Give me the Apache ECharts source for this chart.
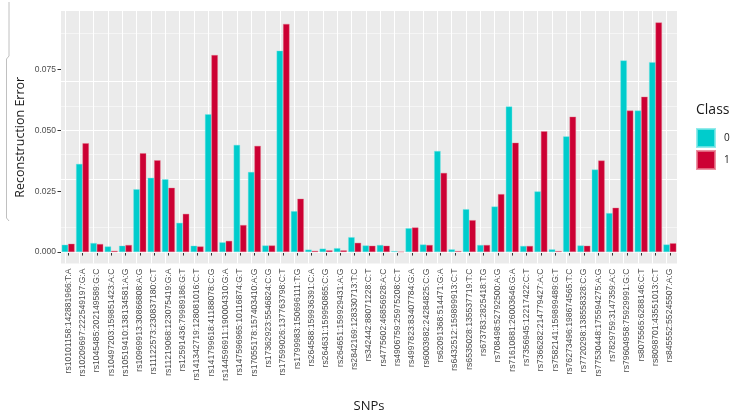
<!DOCTYPE html>
<html>
<head>
<meta charset="utf-8">
<script src="https://cdn.jsdelivr.net/npm/echarts@6/dist/echarts.min.js"></script>
<style>
html,body{margin:0;padding:0;background:#fff;}
#chart{width:740px;height:417px;}
</style>
</head>
<body>
<div id="chart"></div>
<script>
const categories = [
  "rs10101158:142881966:T:A","rs10209697:222549197:G:A","rs1045485:202149589:G:C","rs10497203:159851423:A:C",
  "rs10519410:138134581:A:G","rs10969913:30866808:A:G","rs11122573:230837180:C:T","rs11219068:123075419:G:A",
  "rs12591436:79989186:G:T","rs141342719:128081016:C:T","rs141799618:41188078:C:G","rs144596911:190004310:G:A",
  "rs147596965:10116874:G:T","rs17055178:157403410:A:G","rs17362923:5546824:C:G","rs17599026:137763798:C:T",
  "rs1799983:150696111:T:G","rs264588:159936391:C:A","rs264631:159950865:C:G","rs264651:159929431:A:G",
  "rs2842169:128330713:T:C","rs342442:88071228:C:T","rs4775602:46856928:A:C","rs4906759:25975208:C:T",
  "rs4997823:83407784:G:A","rs6003982:24284825:C:G","rs62091368:514471:G:A","rs6432512:159899913:C:T",
  "rs6535028:135537719:T:C","rs673783:2825418:T:G","rs708498:52792500:A:G","rs71610881:26003646:G:A",
  "rs7356945:12217422:C:T","rs7366282:214779427:A:C","rs7582141:159899489:G:T","rs76273496:198674565:T:C",
  "rs7720298:138558328:C:G","rs77530448:175594275:A:G","rs7829759:3147359:A:C","rs79604958:75929991:G:C",
  "rs8075565:6288146:C:T","rs8098701:43551013:C:T","rs845552:55245507:A:G"
];
const class0 = [
  0.0030,0.0362,0.0037,0.0023,0.0026,0.0258,0.0305,0.0299,0.0120,0.0026,0.0566,0.0040,0.0440,0.0329,0.0027,0.0827,
  0.0168,0.0010,0.0014,0.0016,0.0061,0.0027,0.0029,0.0004,0.0098,0.0031,0.0415,0.0011,0.0176,0.0029,0.0187,0.0598,
  0.0025,0.0249,0.0011,0.0475,0.0027,0.0339,0.0160,0.0787,0.0581,0.0780,0.0031
];
const class1 = [
  0.0034,0.0447,0.0033,0.0005,0.0029,0.0406,0.0377,0.0264,0.0157,0.0023,0.0809,0.0046,0.0111,0.0436,0.0027,0.0937,
  0.0219,0.0005,0.0007,0.0007,0.0038,0.0026,0.0026,0.0001,0.0101,0.0029,0.0325,0.0004,0.0131,0.0029,0.0238,0.0449,
  0.0025,0.0496,0.0004,0.0556,0.0026,0.0376,0.0182,0.0581,0.0638,0.0943,0.0036
];
const seriesNames = ["0","1"];
const majorTicks = [0, 0.025, 0.05, 0.075];
const minorTicks = [0.0125, 0.0375, 0.0625, 0.0875];

const chart = echarts.init(document.getElementById('chart'), null, {renderer:'canvas'});

const gridLines = [];
majorTicks.forEach(v => gridLines.push({yAxis: v, lineStyle:{color:'#fff', width:1.1, type:'solid'}}));
minorTicks.forEach(v => gridLines.push({yAxis: v, lineStyle:{color:'#fff', width:0.5, type:'solid'}}));
categories.forEach(c => gridLines.push({xAxis: c, lineStyle:{color:'#fff', width:1.1, type:'solid'}}));

const option = {
  animation: false,
  backgroundColor: '#fff',
  grid: {left: 61, top: 11, right: 63, bottom: 153.5, show: true, backgroundColor: '#EBEBEB', borderWidth: 0,
    containLabel: false, outerBoundsMode: 'none'},
  legend: {
    orient: 'vertical', left: 696, top: 128, padding: 0,
    itemWidth: 18, itemHeight: 18, itemGap: 2,
    icon: 'rect',
    data: seriesNames,
    textStyle: {fontFamily: 'Open Sans', fontSize: 10, color: '#1a1a1a', padding:[0,0,0,4]},
    selectedMode: false
  },
  graphic: [
    {type: 'text', left: 696, top: 103, style: {text: 'Class', font: '14px "Open Sans"', fill: '#1a1a1a'}},
    {type: 'polyline', shape: {points: [[9,2],[9,56],[6.5,59],[6.5,218],[9,221]]}, style: {stroke: '#c0c0c0', lineWidth: 1, fill: null}, silent: true}
  ],
  xAxis: {
    type: 'category',
    data: categories,
    boundaryGap: true,
    name: 'SNPs',
    nameLocation: 'middle',
    nameGap: 136,
    nameMoveOverlap: false,
    nameTextStyle: {fontFamily: 'Open Sans', fontSize: 13, color: '#1a1a1a'},
    axisLine: {show: false},
    axisTick: {show: true, alignWithLabel: true, length: 3.5, lineStyle: {color: '#333', width: 1}},
    axisLabel: {rotate: 90, interval: 0, fontFamily: 'Liberation Sans', fontSize: 8.6, color: '#4D4D4D', margin: 5},
    splitLine: {show: false}
  },
  yAxis: {
    type: 'value',
    min: -0.0047,
    max: 0.099,
    name: 'Reconstruction Error',
    nameLocation: 'middle',
    nameGap: 34,
    nameMoveOverlap: false,
    nameRotate: 90,
    nameTextStyle: {fontFamily: 'Open Sans', fontSize: 12.5, color: '#1a1a1a'},
    axisLine: {show: false},
    axisTick: {show: true, length: 3.5, customValues: majorTicks, lineStyle: {color: '#333', width: 1}},
    axisLabel: {customValues: majorTicks, fontFamily: 'Liberation Sans', fontSize: 8.5, color: '#4D4D4D', margin: 5,
      formatter: v => v.toFixed(3)},
    splitLine: {show: false}
  },
  series: [
    {
      name: seriesNames[0], type: 'bar', data: class0, z: 3,
      barGap: '0%', barCategoryGap: '10%',
      itemStyle: {color: '#00CCCC', borderColor: 'rgba(120,230,230,0.8)', borderWidth: 0.5},
      markLine: {silent: true, symbol: 'none', z: 1, label: {show: false}, animation: false, data: gridLines}
    },
    {
      name: seriesNames[1], type: 'bar', data: class1, z: 3,
      barGap: '0%', barCategoryGap: '10%',
      itemStyle: {color: '#CC0033', borderColor: 'rgba(230,120,140,0.8)', borderWidth: 0.5}
    }
  ]
};
chart.setOption(option);
</script>
</body>
</html>
